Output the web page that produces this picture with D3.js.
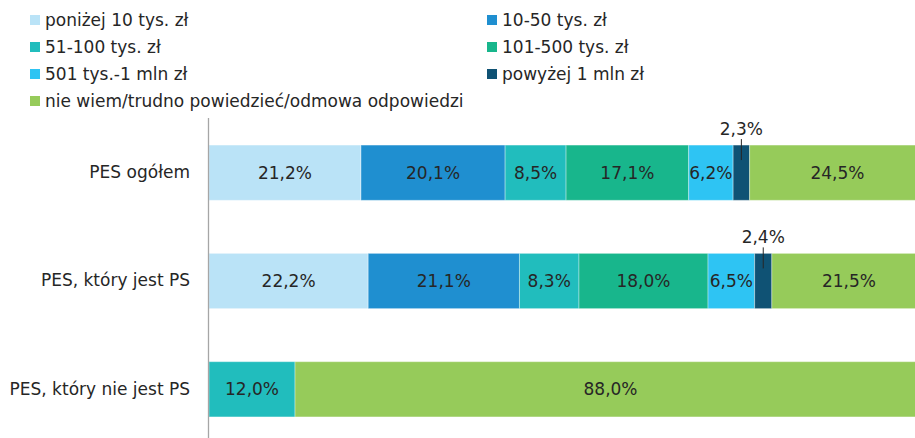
<!DOCTYPE html>
<html>
<head>
<meta charset="utf-8">
<script src="https://cdn.jsdelivr.net/npm/d3@7"></script>
<style>
  body { margin: 0; background: #fff; }
  svg { display: block; font-family: "DejaVu Sans", sans-serif; }
</style>
</head>
<body>
<svg width="915" height="438"></svg>
<script>
// dane
var categories = ["PES ogółem", "PES, który jest PS", "PES, który nie jest PS"];
var seriesNames = ["poniżej 10 tys. zł", "10-50 tys. zł", "51-100 tys. zł", "101-500 tys. zł",
                   "501 tys.-1 mln zł", "powyżej 1 mln zł", "nie wiem/trudno powiedzieć/odmowa odpowiedzi"];
var ponizej10 = [21.2, 22.2, 0];
var od10do50 = [20.1, 21.1, 0];
var od51do100 = [8.5, 8.3, 12.0];
var od101do500 = [17.1, 18.0, 0];
var od501do1mln = [6.2, 6.5, 0];
var powyzej1mln = [2.3, 2.4, 0];
var nieWiem = [24.5, 21.5, 88.0];
var colors = ["#bae3f7", "#1f8fd0", "#21bdbd", "#18b68c", "#2ec4f3", "#0f5274", "#96cb5a"];

var seriesValues = [ponizej10, od10do50, od51do100, od101do500, od501do1mln, powyzej1mln, nieWiem];

var svg = d3.select("svg");
var margin = {left: 209, top: 118};
var fs = 17;

var x = d3.scaleLinear().domain([0, 100]).range([margin.left, 926]);
var y = d3.scaleBand().domain(categories).range([118, 444]).paddingInner(0.49).paddingOuter(0.25);

// tabela wierszy ze skumulowanymi wartościami
var rows = categories.map(function(c, i) {
    var acc = 0;
    var segs = seriesNames.map(function(s, k) {
        var v = seriesValues[k][i];
        var seg = {cat: c, key: s, k: k, x0: acc, x1: acc + v, value: v};
        acc += v;
        return seg;
    });
    return {cat: c, segs: segs.filter(function(d) { return d.value > 0; })};
});

var fmt = function(v) { return d3.format(".1f")(v).replace(".", ",") + "%"; };

var g = svg.append("g");
var rowG = g.selectAll("g.row").data(rows).enter().append("g").attr("class", "row");

rowG.selectAll("rect")
    .data(function(d) { return d.segs; })
    .enter().append("rect")
    .attr("x", function(d) { return x(d.x0); })
    .attr("y", function(d) { return y(d.cat); })
    .attr("width", function(d) { return x(d.x1) - x(d.x0); })
    .attr("height", y.bandwidth())
    .attr("fill", function(d) { return colors[d.k]; })
    .attr("stroke", "rgba(255,255,255,0.35)")
    .attr("stroke-width", 1);

// etykiety w środku segmentów
rowG.selectAll("text.val")
    .data(function(d) { return d.segs.filter(function(s) { return s.value >= 5; }); })
    .enter().append("text")
    .attr("class", "val")
    .attr("x", function(d) { return (x(d.x0) + x(d.x1)) / 2; })
    .attr("y", function(d) { return y(d.cat) + y.bandwidth() / 2; })
    .attr("dy", "0.36em")
    .attr("text-anchor", "middle")
    .attr("font-size", fs)
    .attr("fill", "#262626")
    .text(function(d) { return fmt(d.value); });

// małe wartości - etykieta nad słupkiem z linią
var small = rowG.selectAll("g.small")
    .data(function(d) { return d.segs.filter(function(s) { return s.value < 5; }); })
    .enter().append("g").attr("class", "small");

small.append("line")
    .attr("x1", function(d) { return (x(d.x0) + x(d.x1)) / 2; })
    .attr("x2", function(d) { return (x(d.x0) + x(d.x1)) / 2; })
    .attr("y1", function(d) { return y(d.cat) - 6; })
    .attr("y2", function(d) { return y(d.cat) + 15; })
    .attr("stroke", "#262626")
    .attr("stroke-width", 1);

small.append("text")
    .attr("x", function(d) { return (x(d.x0) + x(d.x1)) / 2; })
    .attr("y", function(d) { return y(d.cat) - 10; })
    .attr("text-anchor", "middle")
    .attr("font-size", fs)
    .attr("fill", "#262626")
    .text(function(d) { return fmt(d.value); });

// oś Y
var axis = g.append("g")
    .attr("transform", "translate(" + (margin.left - 1) + ",0)")
    .call(d3.axisLeft(y).tickSize(0).tickPadding(18));
axis.select(".domain").attr("d", "M0.5,118V438").attr("stroke", "#a6a6a6").attr("stroke-width", 1.3);
axis.selectAll("text").attr("font-size", fs).attr("fill", "#262626").attr("font-family", "DejaVu Sans, sans-serif");

// legenda
var legend = svg.append("g").selectAll("g")
    .data(seriesNames)
    .enter().append("g")
    .attr("transform", function(d, i) {
        var col = i % 2, row = Math.floor(i / 2);
        return "translate(" + (col === 0 ? 30 : 487) + "," + (20 + row * 27) + ")";
    });

legend.append("rect")
    .attr("x", 0).attr("y", -5)
    .attr("width", 10).attr("height", 10)
    .attr("fill", function(d, i) { return colors[i]; });

legend.append("text")
    .attr("x", 15)
    .attr("dy", "0.36em")
    .attr("font-size", fs)
    .attr("fill", "#262626")
    .text(function(d) { return d; });
</script>
</body>
</html>
